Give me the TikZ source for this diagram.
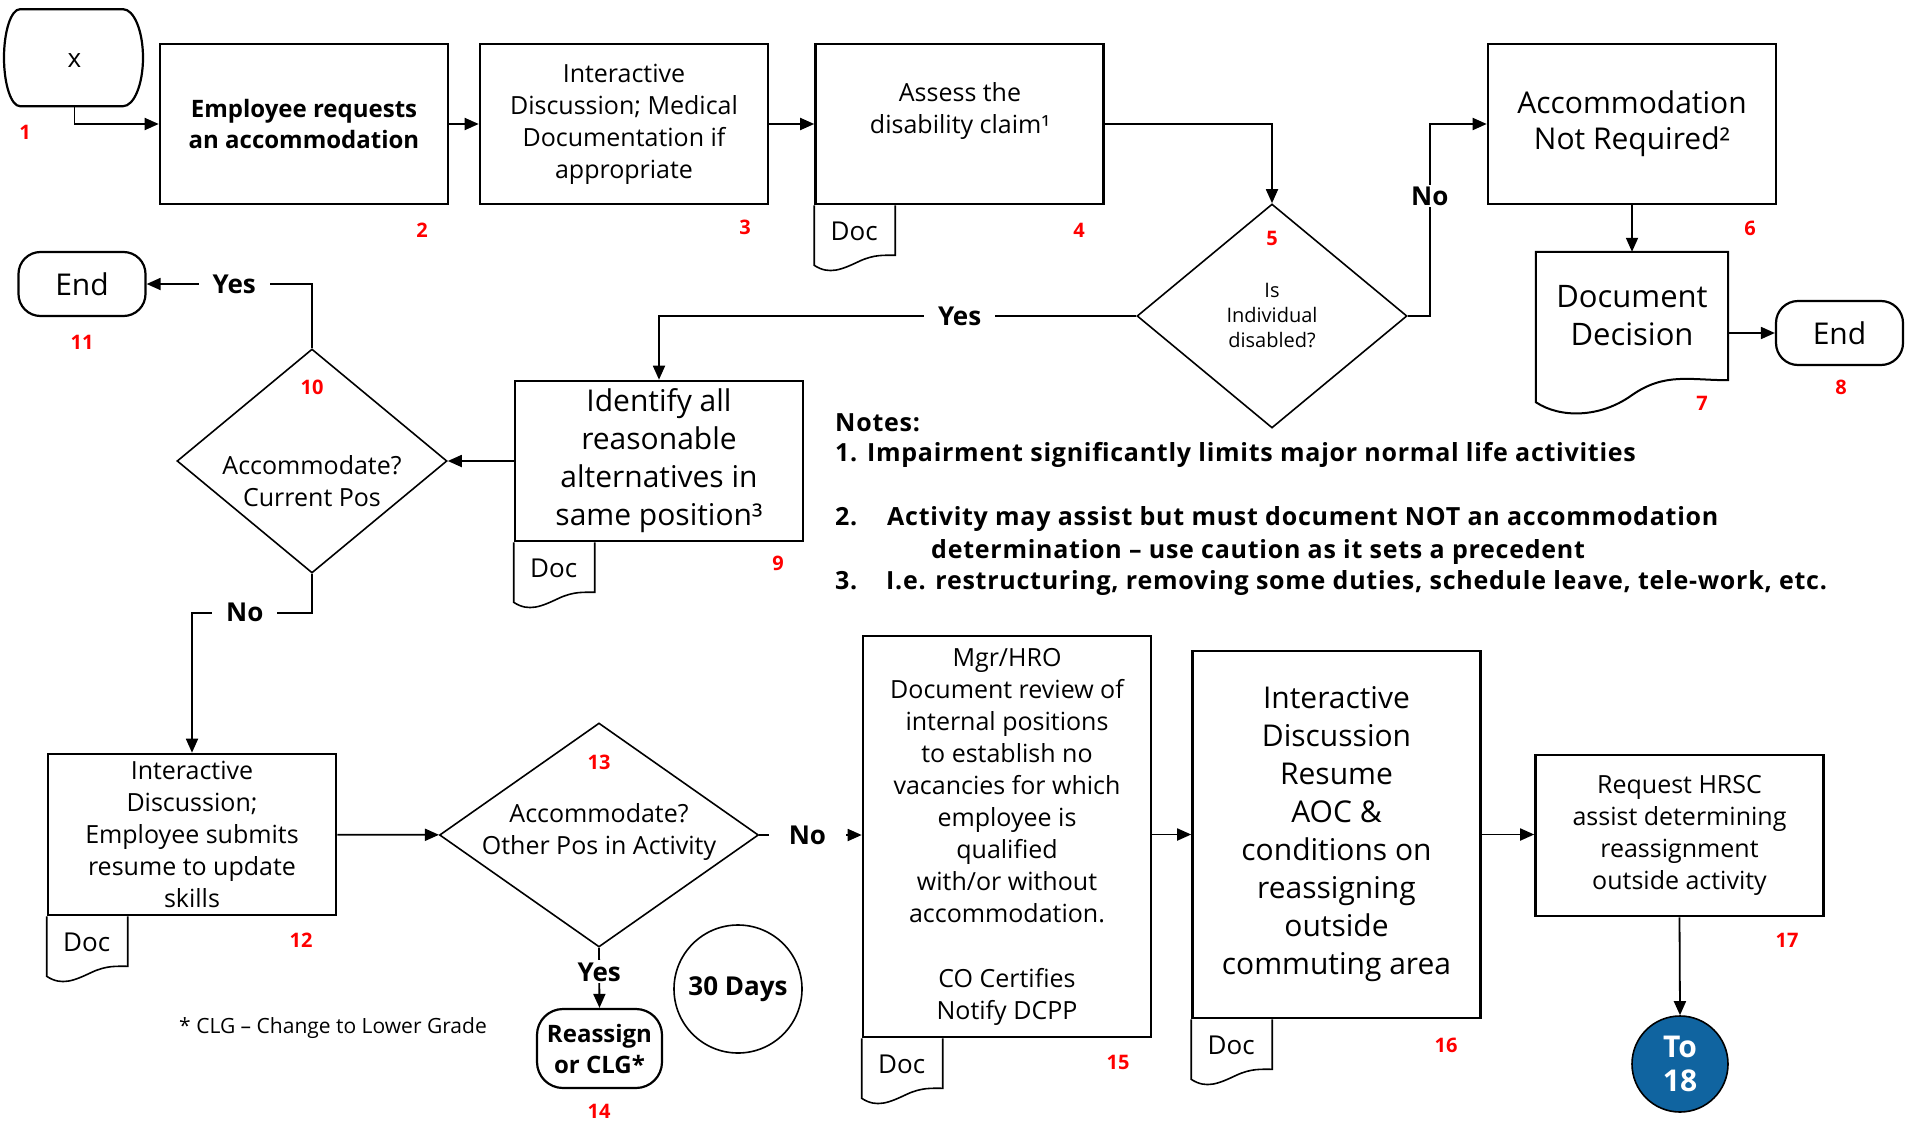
\documentclass[tikz,border=0pt]{standalone}
\usepackage{fontspec}
\setmainfont{Open Sans}
\usepackage{tikz}
\usetikzlibrary{arrows.meta}
\usetikzlibrary{positioning}
\usetikzlibrary{shapes.geometric}
\definecolor{tonavy}{RGB}{16,100,160}
\newcommand{\fsz}[2]{\fontsize{#1}{#2}\selectfont}
% doc flag under a box: #1 box, #2 name of the label
\newcommand{\doctab}[2]{%
  \draw[tab line,shift={(#1.south west)}] (0,0) -- (0,60) .. controls (15,70) and (28,64) .. (45,56)
     .. controls (60,49) and (70,50) .. (81,50) -- (81,0);
  \node[doc label] (#2) at ([shift={(40,26)}]#1.south west) {Doc};}

\begin{document}
\begin{tikzpicture}[x=1pt,y=-1pt,>={Triangle[length=14pt,width=12pt]},
    conn/.style={->,line width=1.8pt},
    proc node/.style={draw,line width=2.6pt,minimum width=288pt,minimum height=160pt,align=center,inner sep=0pt,font=\fsz{25}{32}},
    big text/.style={font=\fsz{30}{38}},
    dec node/.style={diamond,draw,line width=1.6pt,minimum width=270pt,minimum height=224pt,inner sep=0pt,align=center,font=\fsz{25}{32}},
    end node/.style={draw,line width=2.2pt,rounded corners=22pt,minimum width=127pt,minimum height=64pt,font=\fsz{30}{36}},
    num node/.style={text=red,font=\bfseries\fsz{20}{24}},
    lab node/.style={fill=white,font=\bfseries\fsz{26}{30},inner xsep=14pt,inner ysep=2pt},
    note node/.style={anchor=west,inner sep=0pt,font=\bfseries\fsz{25}{32}\addfontfeatures{LetterSpace=3}},
    doc label/.style={font=\fsz{26}{30}},
    tab line/.style={line width=1.6pt}]
  \useasboundingbox (0,0) rectangle (1905,1121);

  % top row
  \node[minimum width=139pt,minimum height=90pt,font=\fsz{26}{30}] (s1) at (74.5,61) {x};
  \draw[line width=2.2pt,shift={(s1.south)}] (-54.5,0) -- (48.5,0) .. controls (59.5,0) and (68.5,-21.7) .. (68.5,-48.5)
     .. controls (68.5,-75.3) and (59.5,-97) .. (48.5,-97) -- (-54.5,-97)
     .. controls (-63.3,-97) and (-70.5,-75.3) .. (-70.5,-48.5) .. controls (-70.5,-21.7) and (-63.3,0) .. cycle;
  \node[proc node,font=\bfseries\fsz{24}{31}] (b2) at (304,124) {Employee requests\\an accommodation};
  \node[proc node] (b3) at (624,124) {Interactive\\Discussion; Medical\\Documentation if\\appropriate};
  \node[proc node] (b4) at (959.5,124) {};
  \node[align=center,font=\fsz{25}{32}] (t4) at (960,111) {Assess the\\disability claim¹};
  \node[dec node,font=\fsz{20}{25}] (d5) at (1272,316) {Is\\Individual\\disabled?};
  \node[proc node,font=\fsz{30}{36}] (b6) at (1632,124) {Accommodation\\Not Required²};
  \node[minimum width=192pt,minimum height=128pt,align=center,font=\fsz{31}{38}] (d7) at (1632,316) {Document\\Decision};
  \draw[line width=2pt] (d7.north west) -- ([shift={(0,22)}]d7.south west)
     .. controls ([shift={(24,38)}]d7.south west) and ([shift={(64,38)}]d7.south west) .. ([shift={(96,15)}]d7.south west)
     .. controls ([shift={(129,-8)}]d7.south west) and ([shift={(154,0)}]d7.south west) .. (d7.south east)
     -- (d7.north east) -- cycle;
  \node[end node] (e8) at (1839.5,333) {End};

  % middle row
  \node[end node] (e11) at (82,284) {End};
  \node[dec node] (d10) at (312,461) {};
  \node[align=center,font=\fsz{25}{32}] (t10) at (312,481) {Accommodate?\\Current Pos};
  \node[proc node,big text] (b9) at (659,461) {Identify all\\reasonable\\alternatives in\\same position³};

  % bottom row
  \node[proc node,minimum height=161pt] (b12) at (192,834.5) {Interactive\\Discussion;\\Employee submits\\resume to update\\skills};
  \node[dec node,minimum width=319pt] (d13) at (599,835) {};
  \node[align=center,font=\fsz{25}{32}] (t13) at (599,832) {Accommodate?\\Other Pos in Activity};
  \node[end node,minimum width=125pt,minimum height=79pt,rounded corners=26pt,align=center,font=\bfseries\fsz{24}{31}] (s14) at (599.5,1048.5) {Reassign\\or CLG*};
  \node[circle,draw,line width=1.6pt,minimum size=128pt,inner sep=0pt,font=\bfseries\fsz{26}{30}] (c30) at (738,989) {30 Days};
  \node[font=\fsz{21}{25}] (clg) at (333,1028) {* CLG – Change to Lower Grade};
  \node[proc node,minimum height=401pt] (b15) at (1007,836.5) {Mgr/HRO\\Document review of\\internal positions\\to establish no\\vacancies for which\\employee is\\qualified\\with/or without\\accommodation.\\[33pt]CO Certifies\\Notify DCPP};
  \node[proc node,big text,minimum height=367pt] (b16) at (1336.5,834.5) {Interactive\\Discussion\\Resume\\AOC \&\\conditions on\\reassigning\\outside\\commuting area};
  \node[proc node,minimum height=161pt] (b17) at (1679.5,835.5) {Request HRSC\\assist determining\\reassignment\\outside activity};
  \node[circle,draw,fill=tonavy,line width=1.6pt,minimum size=96pt,inner sep=0pt,align=center,text=white,font=\bfseries\fsz{30}{34}] (c18) at (1680,1064) {To\\18};

  % doc flags
  \doctab{b4}{doc4}
  \doctab{b9}{doc9}
  \doctab{b12}{doc12}
  \doctab{b15}{doc15}
  \doctab{b16}{doc16}

  % step numbers
  \node[num node] (n1) at (25,132) {1};
  \node[num node] (n2) at (422,230) {2};
  \node[num node] (n3) at (745,227) {3};
  \node[num node] (n4) at (1079,230) {4};
  \node[num node] (n5) at (1272,238) {5};
  \node[num node] (n6) at (1750,228) {6};
  \node[num node] (n7) at (1702,403) {7};
  \node[num node] (n8) at (1841,387) {8};
  \node[num node] (n9) at (778,563) {9};
  \node[num node] (n10) at (312,387) {10};
  \node[num node] (n11) at (82,342) {11};
  \node[num node] (n12) at (301,940) {12};
  \node[num node] (n13) at (599,762) {13};
  \node[num node] (n14) at (599,1111) {14};
  \node[num node] (n15) at (1118,1062) {15};
  \node[num node] (n16) at (1446,1045) {16};
  \node[num node] (n17) at (1787,940) {17};

  % notes
  \node[note node] (notes) at (835,423) {Notes:};
  \node[note node] (note1) at (835,455) {1. Impairment significantly limits major normal life activities};
  \node[note node] (note2) at (835,519) {\makebox[52pt][l]{2.}Activity may assist but must document NOT an accommodation};
  \node[note node] (note2b) at (931,552) {determination – use caution as it sets a precedent};
  \node[note node] (note3) at (835,583) {\makebox[51pt][l]{3.}I.e. restructuring, removing some duties, schedule leave, tele-work, etc.};

  % connectors
  \draw[conn] (s1.south) |- (b2.west);
  \path[conn] (b2) edge (b3);
  \path[conn] (b3) edge (b4);
  \draw[conn] (b4.east) -| (d5.north);
  \draw[conn] (d5.east) -- ++(22,0) coordinate (k5) -- node[lab node,pos=0.625] (no5) {No} (k5 |- b6.west) -- (b6.west);
  \path[conn] (b6) edge (d7);
  \draw[conn] (d7.east |- e8.west) -- (e8.west);
  \draw[conn] (d5.west) -- node[lab node,pos=0.37] (yes5) {Yes} (b9.north |- d5.west) -- (b9.north);
  \path[conn] (b9) edge (d10);
  \draw[conn] (d10.north) -- (d10.north |- e11.east) -- node[lab node,pos=0.47] (yes10) {Yes} (e11.east);
  \draw[conn] (d10.south) -- ++(0,39) -| node[lab node,pos=0.28] (no10) {No} (b12.north);
  \path[conn] (b12) edge (d13);
  \draw[conn] (d13.south) -- node[lab node,pos=0.4,inner xsep=4pt] (yes13) {Yes} (s14.north);
  \draw[conn] (d13.east) -- node[lab node,pos=0.47,inner xsep=20pt] (no13) {No} (d13.east -| b15.west);
  \draw[conn] (b15.east |- b16.west) -- (b16.west);
  \draw[conn] (b16.east) -- (b16.east -| b17.west);
  \draw[conn] (b17.south) -- (c18.north);
\end{tikzpicture}
\end{document}
